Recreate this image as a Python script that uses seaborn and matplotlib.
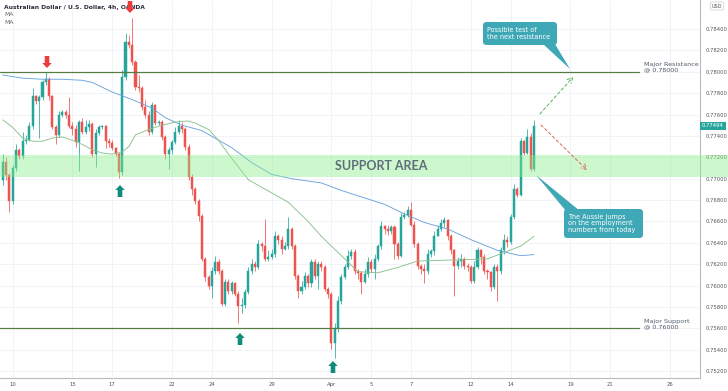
import matplotlib
matplotlib.use("Agg")
import numpy as np
import pandas as pd
import seaborn as sns
import matplotlib.pyplot as plt
from matplotlib.patches import FancyBboxPatch, Polygon

# AUD/USD 4h candles (Mar 9 12:00 -> Apr 15), opens follow the previous close
first_open = 0.7699
closes = [
    0.7716, 0.7703, 0.7679, 0.7710, 0.7727, 0.7721, 0.7735, 0.7736, 0.7749, 0.7777,
    0.7773, 0.7776, 0.7790, 0.7793, 0.7777, 0.7748, 0.7741, 0.7760, 0.7762, 0.7760,
    0.7749, 0.7746, 0.7734, 0.7753, 0.7744, 0.7748, 0.7751, 0.7723, 0.7743, 0.7748,
    0.7749, 0.7735, 0.7733, 0.7729, 0.7723, 0.7706, 0.7795, 0.7828, 0.7825, 0.7809,
    0.7786, 0.7785, 0.7767, 0.7760, 0.7744, 0.7769, 0.7752, 0.7753, 0.7739, 0.7723,
    0.7727, 0.7734, 0.7744, 0.7749, 0.7746, 0.7730, 0.7702, 0.7690, 0.7679, 0.7665,
    0.7625, 0.7608, 0.7600, 0.7614, 0.7622, 0.7614, 0.7583, 0.7603, 0.7595, 0.7602,
    0.7592, 0.7581, 0.7582, 0.7594, 0.7614, 0.7620, 0.7617, 0.7639, 0.7637, 0.7625,
    0.7627, 0.7630, 0.7646, 0.7643, 0.7634, 0.7637, 0.7653, 0.7637, 0.7609, 0.7595,
    0.7599, 0.7609, 0.7602, 0.7622, 0.7609, 0.7620, 0.7617, 0.7597, 0.7592, 0.7546,
    0.7560, 0.7586, 0.7608, 0.7617, 0.7628, 0.7631, 0.7614, 0.7612, 0.7603, 0.7611,
    0.7622, 0.7616, 0.7625, 0.7637, 0.7656, 0.7653, 0.7651, 0.7655, 0.7639, 0.7628,
    0.7664, 0.7666, 0.7671, 0.7657, 0.7639, 0.7618, 0.7616, 0.7614, 0.7630, 0.7632,
    0.7646, 0.7653, 0.7659, 0.7661, 0.7646, 0.7633, 0.7618, 0.7623, 0.7625, 0.7618,
    0.7617, 0.7604, 0.7617, 0.7633, 0.7627, 0.7614, 0.7613, 0.7599, 0.7617, 0.7614,
    0.7633, 0.7643, 0.7641, 0.7664, 0.7690, 0.7685, 0.7735, 0.7724, 0.7739, 0.7709,
    0.7749,
]
highs = [
    0.7723, 0.7720, 0.7705, 0.7713, 0.7732, 0.7729, 0.7744, 0.7741, 0.7753, 0.7785,
    0.7778, 0.7778, 0.7792, 0.7800, 0.7795, 0.7778, 0.7750, 0.7763, 0.7764, 0.7764,
    0.7776, 0.7753, 0.7750, 0.7755, 0.7757, 0.7755, 0.7755, 0.7753, 0.7746, 0.7750,
    0.7750, 0.7750, 0.7738, 0.7736, 0.7730, 0.7724, 0.7802, 0.7836, 0.7834, 0.7850,
    0.7811, 0.7797, 0.7787, 0.7774, 0.7763, 0.7772, 0.7770, 0.7755, 0.7755, 0.7741,
    0.7730, 0.7736, 0.7748, 0.7755, 0.7753, 0.7748, 0.7732, 0.7704, 0.7692, 0.7681,
    0.7667, 0.7627, 0.7610, 0.7617, 0.7628, 0.7625, 0.7616, 0.7606, 0.7606, 0.7604,
    0.7603, 0.7595, 0.7588, 0.7597, 0.7617, 0.7625, 0.7623, 0.7643, 0.7641, 0.7662,
    0.7633, 0.7634, 0.7651, 0.7648, 0.7646, 0.7641, 0.7664, 0.7655, 0.7639, 0.7611,
    0.7604, 0.7613, 0.7611, 0.7625, 0.7625, 0.7623, 0.7623, 0.7619, 0.7599, 0.7594,
    0.7565, 0.7590, 0.7611, 0.7620, 0.7633, 0.7634, 0.7634, 0.7616, 0.7614, 0.7616,
    0.7627, 0.7625, 0.7630, 0.7639, 0.7660, 0.7657, 0.7657, 0.7657, 0.7657, 0.7641,
    0.7668, 0.7669, 0.7674, 0.7678, 0.7660, 0.7641, 0.7620, 0.7620, 0.7634, 0.7634,
    0.7651, 0.7657, 0.7662, 0.7664, 0.7662, 0.7648, 0.7634, 0.7627, 0.7630, 0.7627,
    0.7621, 0.7619, 0.7623, 0.7636, 0.7634, 0.7630, 0.7616, 0.7614, 0.7620, 0.7620,
    0.7636, 0.7648, 0.7646, 0.7667, 0.7695, 0.7692, 0.7738, 0.7736, 0.7746, 0.7743,
    0.7755,
]
lows = [
    0.7694, 0.7699, 0.7669, 0.7676, 0.7707, 0.7718, 0.7718, 0.7732, 0.7735, 0.7746,
    0.7770, 0.7738, 0.7774, 0.7788, 0.7774, 0.7746, 0.7732, 0.7739, 0.7758, 0.7757,
    0.7747, 0.7741, 0.7730, 0.7707, 0.7742, 0.7742, 0.7745, 0.7720, 0.7711, 0.7741,
    0.7746, 0.7729, 0.7730, 0.7727, 0.7721, 0.7701, 0.7703, 0.7792, 0.7822, 0.7806,
    0.7783, 0.7781, 0.7764, 0.7757, 0.7741, 0.7742, 0.7750, 0.7750, 0.7736, 0.7718,
    0.7709, 0.7723, 0.7732, 0.7742, 0.7743, 0.7727, 0.7699, 0.7685, 0.7676, 0.7660,
    0.7623, 0.7604, 0.7597, 0.7588, 0.7611, 0.7611, 0.7581, 0.7581, 0.7592, 0.7592,
    0.7590, 0.7565, 0.7574, 0.7579, 0.7592, 0.7611, 0.7614, 0.7616, 0.7632, 0.7623,
    0.7623, 0.7625, 0.7627, 0.7639, 0.7630, 0.7633, 0.7634, 0.7634, 0.7606, 0.7588,
    0.7592, 0.7597, 0.7599, 0.7599, 0.7606, 0.7597, 0.7614, 0.7595, 0.7588, 0.7541,
    0.7532, 0.7557, 0.7583, 0.7606, 0.7616, 0.7625, 0.7611, 0.7606, 0.7592, 0.7602,
    0.7608, 0.7613, 0.7606, 0.7623, 0.7634, 0.7648, 0.7647, 0.7648, 0.7625, 0.7625,
    0.7627, 0.7662, 0.7664, 0.7656, 0.7636, 0.7616, 0.7611, 0.7602, 0.7611, 0.7627,
    0.7629, 0.7646, 0.7651, 0.7655, 0.7643, 0.7630, 0.7590, 0.7616, 0.7617, 0.7616,
    0.7614, 0.7602, 0.7602, 0.7616, 0.7620, 0.7611, 0.7606, 0.7595, 0.7597, 0.7586,
    0.7611, 0.7630, 0.7636, 0.7639, 0.7662, 0.7683, 0.7684, 0.7722, 0.7723, 0.7707,
    0.7707,
]

# moving averages (candle index, price)
ma_fast_idx = [0, 3, 6, 9, 12, 15, 18, 21, 24, 27, 30, 33, 36, 38, 40, 44, 48, 52, 56, 58,
               62, 65, 68, 74, 82, 86, 92, 96, 103, 107, 113, 119, 125, 136, 146, 151, 156, 160]
ma_fast = [0.7755, 0.7748, 0.7738, 0.7735, 0.7735, 0.7738, 0.7739, 0.7736, 0.7732, 0.7727,
           0.7724, 0.7723, 0.7725, 0.7730, 0.7741, 0.7746, 0.7750, 0.7753, 0.7754, 0.7752,
           0.7746, 0.7736, 0.7723, 0.7699, 0.7685, 0.7678, 0.7660, 0.7646, 0.7625, 0.7613,
           0.7612, 0.7617, 0.7623, 0.7624, 0.7625, 0.7631, 0.7637, 0.7646]
ma_slow_idx = [0, 6, 12, 18, 24, 27, 33, 39, 45, 49, 54, 60, 65, 69, 75, 81, 87, 96, 102,
               109, 115, 121, 127, 134, 141, 149, 153, 156, 160]
ma_slow = [0.7797, 0.7794, 0.7793, 0.7793, 0.7792, 0.7790, 0.7781, 0.7774, 0.7766, 0.7757,
           0.7750, 0.7745, 0.7736, 0.7729, 0.7715, 0.7704, 0.7700, 0.7696, 0.7689, 0.7682,
           0.7676, 0.7667, 0.7659, 0.7653, 0.7643, 0.7633, 0.7630, 0.7628, 0.7629]

tick_idx = [3, 21, 33, 51, 63, 81, 99, 111, 123, 141, 153, 171, 183, 201]
tick_labels = ["10", "15", "17", "22", "24", "29", "Apr", "5", "7", "12", "14", "19", "21", "26"]
price_ticks = [0.752, 0.754, 0.756, 0.758, 0.760, 0.762, 0.764, 0.766, 0.768, 0.770,
               0.772, 0.774, 0.776, 0.778, 0.780, 0.782, 0.784]

resistance = 0.7800
support = 0.7560
band_low, band_high = 0.7702, 0.7722
last_price = 0.77494

sns.set_style("white")
plt.rcParams["font.family"] = ["DejaVu Sans"]

fig = plt.figure(figsize=(7.28, 3.91), dpi=100)
ax = fig.add_axes([0, 13 / 391, 700 / 728, 378 / 391])

df = pd.DataFrame({"close": closes, "high": highs, "low": lows})
df["open"] = [first_open] + closes[:-1]
df["x"] = np.arange(len(df))
up = df["close"] >= df["open"]
green, red = "#26a69a", "#ef5350"
colors = np.where(up, green, red)

# grid
for t in tick_idx:
    ax.axvline(t, color="#eef1f6", lw=0.6, zorder=0)
for p in price_ticks:
    ax.axhline(p, color="#eef1f6", lw=0.6, zorder=0)

# candles
body = (df["close"] - df["open"]).where(lambda s: s.abs() > 0.00004, 0.00004)
ax.vlines(df["x"], df["low"], df["high"], colors=colors, lw=0.55, zorder=2)
ax.bar(df["x"], body, bottom=df["open"], width=0.62, color=colors,
       edgecolor=colors, linewidth=0.35, zorder=2)

# moving averages
sns.lineplot(x=ma_slow_idx, y=ma_slow, ax=ax, color="#6aa3dc", lw=0.65, zorder=2.5)
sns.lineplot(x=ma_fast_idx, y=ma_fast, ax=ax, color="#8cc08c", lw=0.65, zorder=2.5)

# support area
ax.axhspan(band_low, band_high, xmin=0, xmax=728 / 700, color="#8aee8a", alpha=0.42,
           lw=0, zorder=3, clip_on=False)
ax.text(114, (band_low + band_high) / 2, "SUPPORT AREA", ha="center", va="center",
        fontsize=9, fontweight="bold", color="#5e6d7a", zorder=4,
        family=["Lato", "DejaVu Sans"])

# major levels
ax.axhline(resistance, xmin=0, xmax=639 / 700, color="#567c46", lw=0.9, zorder=3)
ax.axhline(support, xmin=0, xmax=639 / 700, color="#567c46", lw=0.9, zorder=3)

ax.set_xlim(-0.8, 210)
ax.set_ylim(0.75136, 0.78671)
ax.set_xticks(tick_idx)
ax.set_xticklabels(tick_labels)
ax.yaxis.tick_right()
ax.set_yticks(price_ticks)
ax.set_yticklabels([f"{p:.5f}" for p in price_ticks])
ax.tick_params(axis="both", labelsize=3.8, labelcolor="#555555", length=0, pad=4)
ax.tick_params(axis="x", pad=3)
for s in ["left", "top"]:
    ax.spines[s].set_visible(False)
for s in ["right", "bottom"]:
    ax.spines[s].set_color("#b8bbc2")
    ax.spines[s].set_linewidth(0.8)

# last price tag
ax.text(1.003, last_price, f"{last_price:.5f}", transform=ax.get_yaxis_transform(),
        ha="left", va="center", fontsize=3.8, color="white", zorder=6,
        bbox=dict(boxstyle="square,pad=0.35", fc="#26a69a", ec="none"))


# overlay helpers in pixel coordinates (origin top-left)
tr = fig.dpi_scale_trans


def px(x, y):
    return (x / 100, (391 - y) / 100)


fig.text(*px(717, 6), "USD", transform=tr, ha="center", va="center", fontsize=3.6,
         color="#555555", bbox=dict(boxstyle="round,pad=0.3", fc="white", ec="#cccccc", lw=0.5))
fig.text(*px(4, 7), "Australian Dollar / U.S. Dollar, 4h, OANDA", transform=tr,
         ha="left", va="center", fontsize=4.3, fontweight="bold", color="#2a2e39")
fig.text(*px(4, 15), "MA", transform=tr, ha="left", va="center", fontsize=4.3, color="#666666")
fig.text(*px(4, 23), "MA", transform=tr, ha="left", va="center", fontsize=4.3, color="#666666")


def block_arrow(cx, y0, y1, color):
    # y0 = tail, y1 = tip
    d = 1 if y1 > y0 else -1
    hl = 5 * d
    pts = [px(cx - 2.3, y0), px(cx + 2.3, y0), px(cx + 2.3, y1 - hl), px(cx + 4.7, y1 - hl),
           px(cx, y1), px(cx - 4.7, y1 - hl), px(cx - 2.3, y1 - hl)]
    fig.add_artist(Polygon(pts, closed=True, fc=color, ec="none", transform=tr, zorder=7))


arrow_red, arrow_green = "#ea3d3d", "#0f8c7c"
block_arrow(47, 56, 68, arrow_red)
block_arrow(130, 1, 13, arrow_red)
block_arrow(120, 197, 185, arrow_green)
block_arrow(240, 345, 333, arrow_green)
block_arrow(333, 373, 361, arrow_green)

# level labels
fig.text(*px(644, 62), "Major Resistance\n@ 0.78000", transform=tr, ha="left", va="top",
         fontsize=4.6, color="#4d5b6b", linespacing=1.0)
fig.text(*px(644, 319), "Major Support\n@ 0.76000", transform=tr, ha="left", va="top",
         fontsize=4.6, color="#4d5b6b", linespacing=1.0)

# projected moves
ax.annotate("", xy=px(575, 75), xytext=px(538, 116), xycoords=tr, textcoords=tr,
            arrowprops=dict(arrowstyle="->,head_length=0.35,head_width=0.2", color="#56b356",
                            lw=0.7, linestyle=(0, (3, 2.5))), zorder=6)
ax.annotate("", xy=px(589, 172), xytext=px(539, 123), xycoords=tr, textcoords=tr,
            arrowprops=dict(arrowstyle="->,head_length=0.35,head_width=0.2", color="#e0665e",
                            lw=0.7, linestyle=(0, (3, 2.5))), zorder=6)

# callouts
callout = "#3fa8b6"


def callout_box(x0, y0, x1, y1, tri, text):
    box = FancyBboxPatch(px(x0, y1), (x1 - x0) / 100, (y1 - y0) / 100,
                         boxstyle="round,pad=0,rounding_size=0.035", fc=callout, ec="none",
                         transform=tr, zorder=8)
    fig.add_artist(box)
    fig.add_artist(Polygon([px(*p) for p in tri], closed=True, fc=callout, ec="none",
                           transform=tr, zorder=8))
    fig.text(*px(x0 + 4, (y0 + y1) / 2), text, transform=tr, ha="left", va="center",
             fontsize=4.7, color="white", linespacing=1.05, zorder=9)


callout_box(483, 22, 557, 45, [(543, 44), (555, 44), (570, 69)],
            "Possible test of\nthe next resistance")
callout_box(564, 209, 643, 238, [(566, 211), (580, 211), (536, 175)],
            "The Aussie jumps\non the employment\nnumbers from today")

fig.savefig("out.png", dpi=100)
